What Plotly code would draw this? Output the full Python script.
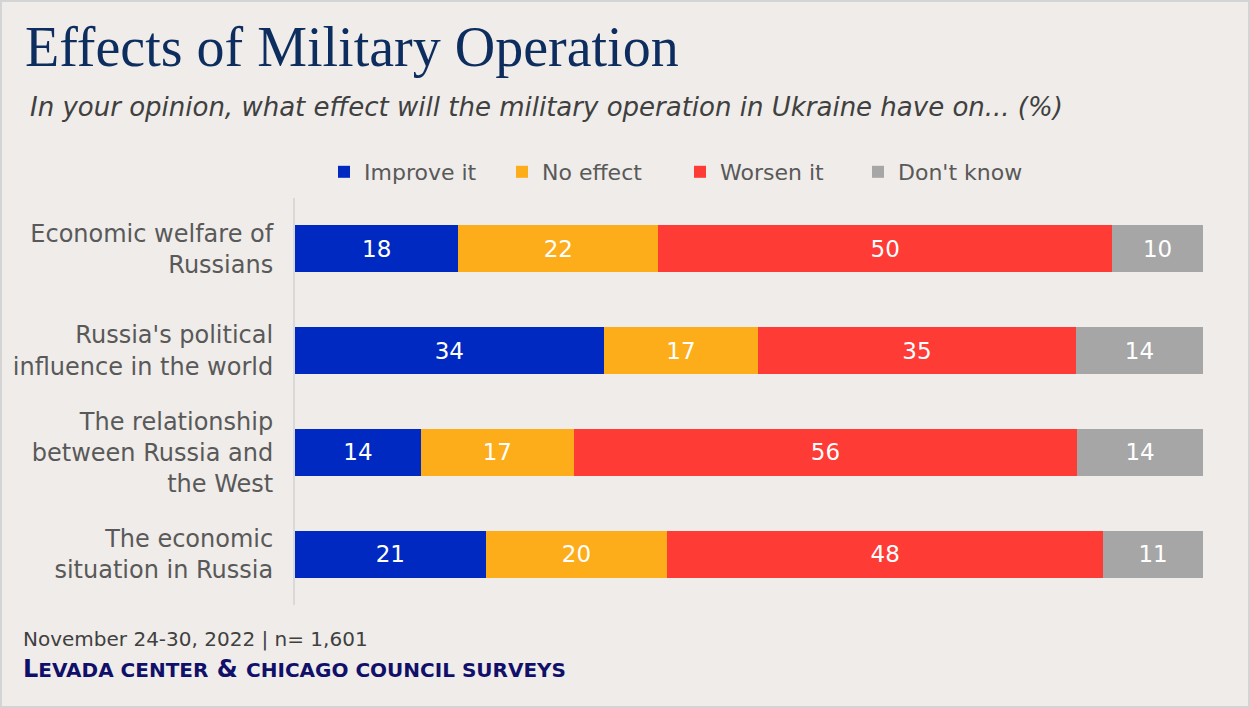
import plotly.graph_objects as go

# Survey items (top to bottom) and response shares in percent
categories = [
    "Economic welfare of<br>Russians",
    "Russia's political<br>influence in the world",
    "The relationship<br>between Russia and<br>the West",
    "The economic<br>situation in Russia",
]
series_names = ["Improve it", "No effect", "Worsen it", "Don't know"]
improve = [18, 34, 14, 21]
no_effect = [22, 17, 17, 20]
worsen = [50, 35, 56, 48]
dont_know = [10, 14, 14, 11]
series_values = [improve, no_effect, worsen, dont_know]
series_colors = ["#0029c2", "#fdac1a", "#ff3b36", "#a6a6a6"]

W, H = 1250, 708
L, R, T, B = 295, 47, 198, 103
PW, PH = W - L - R, H - T - B

BG = "#efece9"
SANS = "DejaVu Sans, Open Sans, sans-serif"
SERIF = "Liberation Serif, DejaVu Serif, serif"


def px_x(px):
    return (px - L) / PW


def px_y(py):
    return (H - B - py) / PH


fig = go.Figure()
for name, vals, col in zip(series_names, series_values, series_colors):
    fig.add_trace(go.Bar(
        y=categories, x=vals, name=name, orientation="h",
        marker=dict(color=col, line=dict(width=0)),
        text=[str(v) for v in vals],
        textposition="inside", insidetextanchor="middle",
        textangle=0, constraintext="none",
        textfont=dict(family=SANS, size=23, color="white"),
        hoverinfo="skip",
    ))

annotations = [
    dict(text="Effects of Military Operation", x=px_x(23), y=px_y(47),
         xanchor="left", yanchor="middle",
         font=dict(family=SERIF, size=56, color="#0c2d5e")),
    dict(text="<i>In your opinion, what effect will the military operation in Ukraine have on... (%)</i>",
         x=px_x(28), y=px_y(107), xanchor="left", yanchor="middle",
         font=dict(family=SANS, size=26, color="#404040")),
    dict(text="November 24-30, 2022 | n= 1,601", x=px_x(21), y=px_y(639),
         xanchor="left", yanchor="middle",
         font=dict(family=SANS, size=20, color="#404040")),
    dict(text=("<b>L<span style='font-size:20px'>EVADA CENTER</span> & "
               "<span style='font-size:20px'>CHICAGO COUNCIL SURVEYS</span></b>"),
         x=px_x(21), y=px_y(669), xanchor="left", yanchor="middle",
         font=dict(family=SANS, size=24, color="#10106a")),
]
for a in annotations:
    a.update(xref="paper", yref="paper", showarrow=False)

fig.update_layout(
    width=W, height=H,
    margin=dict(l=L, r=R, t=T, b=B, pad=0),
    paper_bgcolor=BG, plot_bgcolor=BG,
    barmode="stack", barnorm="percent", bargap=0.54,
    showlegend=True,
    legend=dict(orientation="h", x=px_x(324), y=px_y(172),
                xanchor="left", yanchor="middle",
                entrywidth=133, entrywidthmode="pixels",
                font=dict(family=SANS, size=22, color="#595959"),
                bgcolor="rgba(0,0,0,0)", traceorder="normal"),
    xaxis=dict(range=[0, 100], visible=False, fixedrange=True),
    yaxis=dict(autorange="reversed", showgrid=False, zeroline=False,
               showline=True, linecolor="#d9d9d9", linewidth=2,
               ticks="", ticklabelstandoff=15,
               tickfont=dict(family=SANS, size=24, color="#595959")),
    annotations=annotations,
    shapes=[dict(type="rect", xref="paper", yref="paper",
                 x0=px_x(1), x1=px_x(W - 1), y0=px_y(H - 1), y1=px_y(1),
                 line=dict(color="#d4d4d4", width=2), layer="below")],
    font=dict(family=SANS),
)

fig.write_html("out.html", config={"displayModeBar": False})
